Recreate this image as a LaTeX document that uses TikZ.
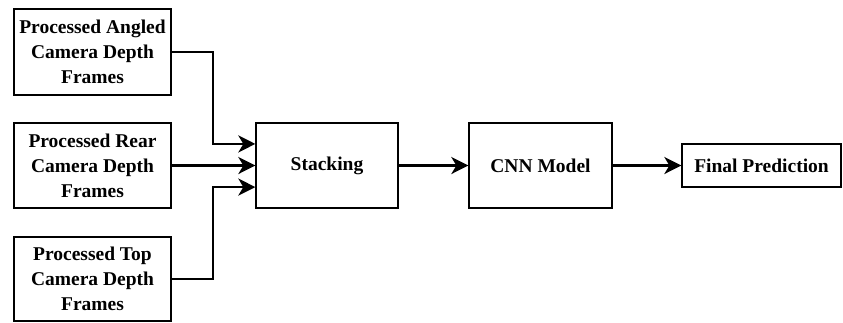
\documentclass[tikz,border=0pt]{standalone}
\usepackage{fontspec}
\setmainfont{Liberation Serif}
\usetikzlibrary{arrows.meta,calc}
\begin{document}
\begin{tikzpicture}[x=1pt,y=-1pt,
  box/.style={draw,line width=1.3pt,fill=white,inner sep=0pt,align=center,
    font=\fontsize{19.5}{25}\selectfont\bfseries},
  arr/.style={line width=2.6pt,-{Stealth[length=17pt,width=17pt,inset=5pt]}}]
\useasboundingbox (0,0) rectangle (843,322);
% input boxes
\node[box,minimum width=157pt,minimum height=86pt] (angled) at (92.5,52)
  {Processed Angled\\Camera Depth\\Frames};
\node[box,minimum width=157pt,minimum height=85pt] (rear) at (92.5,165.5)
  {Processed Rear\\Camera Depth\\Frames};
\node[box,minimum width=157pt,minimum height=84pt] (top) at (92.5,279)
  {Processed Top\\Camera Depth\\Frames};
% processing chain
\node[box,minimum width=142pt,minimum height=85pt] (stack) at (327,165.5) {Stacking};
\node[box,minimum width=143pt,minimum height=85pt] (cnn) at (540.5,165.5) {CNN Model};
\node[box,minimum width=159pt,minimum height=43pt] (final) at (761.5,165.5) {Final Prediction};
% entry points on the stacking box
\coordinate (in1) at ($(stack.north west)!0.25!(stack.south west)$);
\coordinate (in2) at (stack.west);
\coordinate (in3) at ($(stack.north west)!0.75!(stack.south west)$);
% connectors
\draw[arr] (angled.east) -- (213,0 |- angled.east) |- (in1);
\draw[arr] (rear.east) -- (in2);
\draw[arr] (top.east) -- (213,0 |- top.east) |- (in3);
\draw[arr] (stack.east) -- (cnn.west);
\draw[arr] (cnn.east) -- (final.west);
\end{tikzpicture}
\end{document}
